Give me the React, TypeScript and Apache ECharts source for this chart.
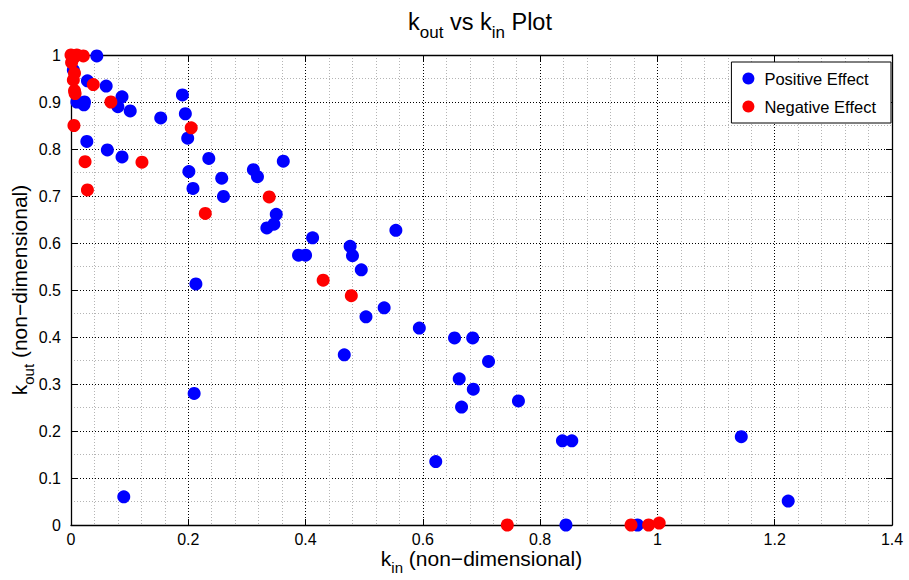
import React, { useEffect, useRef } from "react";
import * as echarts from "echarts";

// [k_in, k_out]
const positiveEffect: [number, number][] = [
  [0.044, 0.998], [0.004, 0.968], [0.028, 0.945], [0.060, 0.934], [0.010, 0.900],
  [0.023, 0.900], [0.022, 0.894], [0.087, 0.911], [0.080, 0.890], [0.101, 0.881],
  [0.153, 0.866], [0.190, 0.915], [0.195, 0.875], [0.199, 0.823], [0.027, 0.816],
  [0.062, 0.798], [0.087, 0.783], [0.235, 0.780], [0.201, 0.752], [0.208, 0.716],
  [0.257, 0.738], [0.260, 0.699], [0.311, 0.756], [0.318, 0.741], [0.362, 0.774],
  [0.350, 0.661], [0.346, 0.640], [0.334, 0.632], [0.412, 0.611], [0.388, 0.574],
  [0.400, 0.574], [0.476, 0.593], [0.480, 0.573], [0.495, 0.543], [0.213, 0.513],
  [0.554, 0.627], [0.534, 0.462], [0.503, 0.443], [0.594, 0.419], [0.654, 0.398],
  [0.685, 0.398], [0.466, 0.362], [0.712, 0.348], [0.662, 0.311], [0.686, 0.289],
  [0.666, 0.251], [0.763, 0.264], [0.838, 0.179], [0.854, 0.179], [1.143, 0.188],
  [1.223, 0.051], [0.844, 0.0], [0.966, 0.0], [0.210, 0.280], [0.622, 0.135],
  [0.090, 0.060],
];

const negativeEffect: [number, number][] = [
  [0.0, 1.0], [0.004, 0.993], [0.001, 0.984], [0.010, 1.0], [0.021, 0.998],
  [0.006, 0.961], [0.004, 0.947], [0.006, 0.924], [0.007, 0.918], [0.038, 0.937],
  [0.068, 0.900], [0.005, 0.850], [0.024, 0.773], [0.028, 0.713], [0.121, 0.772],
  [0.205, 0.845], [0.229, 0.663], [0.338, 0.698], [0.430, 0.521], [0.478, 0.488],
  [0.744, 0.0], [0.955, 0.0], [0.985, 0.0], [1.003, 0.004],
];

const seriesNames = ["Positive Effect", "Negative Effect"];
const seriesColors = ["#0000ff", "#ff0000"];
const xMin = 0, xMax = 1.4, xStep = 0.2;
const yMin = 0, yMax = 1, yStep = 0.1;

const FONT = "'Liberation Sans', Arial, Helvetica, sans-serif";

function richText(size: number, subSize: number, pad: number) {
  return {
    n: { fontSize: size, fontFamily: FONT, color: "#000", fontWeight: "normal" },
    s: { fontSize: subSize, fontFamily: FONT, color: "#000", fontWeight: "normal", padding: [pad, 0, 0, 0] },
  };
}

export default function App() {
  const ref = useRef<HTMLDivElement>(null);
  useEffect(() => {
    const chart = echarts.init(ref.current!, null, { renderer: "svg" });
    const axisLine = { show: true, onZero: false, lineStyle: { color: "#000", width: 1.3 } };
    const tick = { show: true, inside: true, length: 6, lineStyle: { color: "#000", width: 1 } };
    const majorGrid = { show: true, lineStyle: { color: "#000", width: 1, type: [1, 2] } };
    const minorGrid = { show: true, lineStyle: { color: "#b4b4b4", width: 1, type: [1, 2] } };
    const label = { color: "#000", fontSize: 16, fontFamily: FONT };
    chart.setOption({
      animation: false,
      backgroundColor: "#fff",
      title: {
        text: "{n|k}{s|out}{n| vs k}{s|in}{n| Plot}",
        left: 475,
        top: -2,
        textAlign: "center",
        textStyle: { fontWeight: "normal", rich: richText(23.5, 17, 21) },
      },
      legend: {
        data: seriesNames,
        orient: "vertical",
        right: 18,
        top: 62,
        itemWidth: 22,
        itemHeight: 12,
        itemGap: 11,
        padding: [8, 15, 8, 11],
        borderColor: "#000",
        borderWidth: 1,
        backgroundColor: "#fff",
        icon: "circle",
        textStyle: { fontSize: 16.5, color: "#000", fontFamily: FONT },
      },
      grid: { left: 71, right: 17, top: 55, bottom: 55, outerBoundsMode: "none", containLabel: false },
      xAxis: [
        {
          type: "value", min: xMin, max: xMax, interval: xStep, position: "bottom",
          axisLine, axisTick: tick,
          axisLabel: { ...label, margin: 6 },
          splitLine: majorGrid,
          minorTick: { show: false, splitNumber: 5 },
          minorSplitLine: minorGrid,
          name: "{n|k}{s|in}{n| (non\u2212dimensional)}",
          nameLocation: "middle",
          nameGap: 17,
          nameMoveOverlap: false,
          nameTextStyle: { rich: richText(21, 15, 18) },
        },
        {
          type: "value", min: xMin, max: xMax, interval: xStep, position: "top",
          axisLine, axisTick: tick, axisLabel: { show: false }, splitLine: { show: false },
        },
      ],
      yAxis: [
        {
          type: "value", min: yMin, max: yMax, interval: yStep, position: "left",
          axisLine, axisTick: tick,
          axisLabel: { ...label, margin: 10 },
          splitLine: majorGrid,
          minorTick: { show: false, splitNumber: 2 },
          minorSplitLine: minorGrid,
          name: "{n|k}{s|out}{n| (non\u2212dimensional)}",
          nameLocation: "middle",
          nameGap: 35,
          nameMoveOverlap: false,
          nameTextStyle: { rich: richText(21, 15, 18) },
        },
        {
          type: "value", min: yMin, max: yMax, interval: yStep, position: "right",
          axisLine, axisTick: tick, axisLabel: { show: false }, splitLine: { show: false },
        },
      ],
      series: [
        {
          name: seriesNames[0], type: "scatter", xAxisIndex: 0, yAxisIndex: 0,
          data: positiveEffect, symbol: "circle", symbolSize: 13, clip: false,
          itemStyle: { color: seriesColors[0], opacity: 1 },
        },
        {
          name: seriesNames[1], type: "scatter", xAxisIndex: 0, yAxisIndex: 0,
          data: negativeEffect, symbol: "circle", symbolSize: 13, clip: false,
          itemStyle: { color: seriesColors[1], opacity: 1 },
        },
      ],
    });
    return () => chart.dispose();
  }, []);
  return (
    <div
      ref={ref}
      style={{ position: "absolute", left: 0, top: 0, width: 909, height: 580, background: "#fff" }}
    />
  );
}
